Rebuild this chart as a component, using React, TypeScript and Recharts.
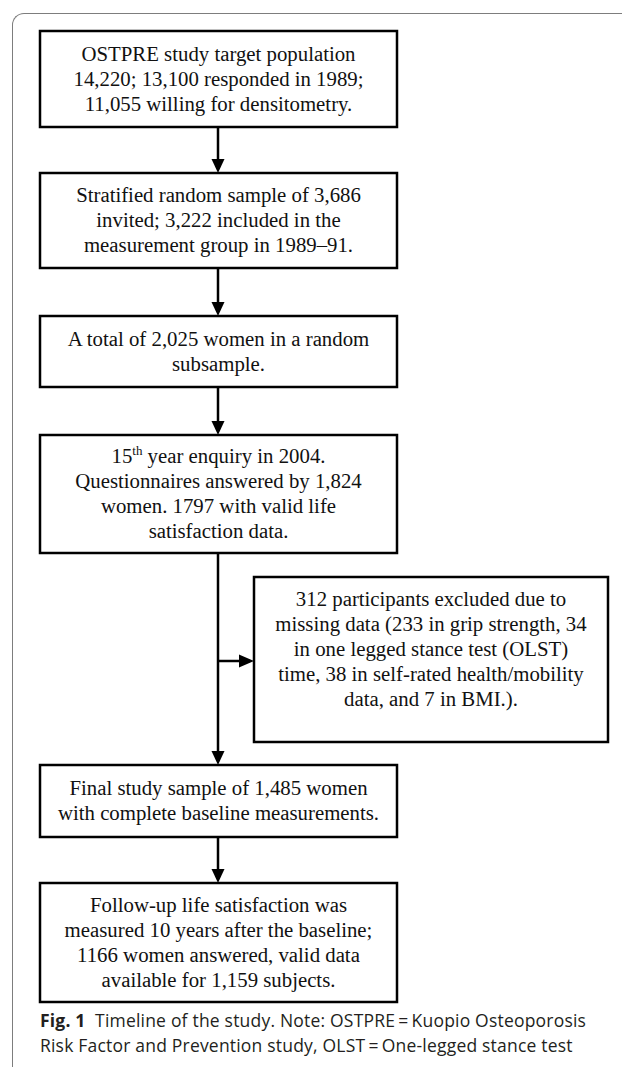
import React from "react";
import {
  ScatterChart,
  Scatter,
  XAxis,
  YAxis,
  ReferenceArea,
  ReferenceLine,
} from "recharts";

const W = 622;
const H = 1069;

// text of the main flow, top to bottom ("^" marks a superscript)
const stepTexts = [
  ["OSTPRE study target population", "14,220; 13,100 responded in 1989;", "11,055 willing for densitometry."],
  ["Stratified random sample of 3,686", "invited; 3,222 included in the", "measurement group in 1989–91."],
  ["A total of 2,025 women in a random", "subsample."],
  ["15^th year enquiry in 2004.", "Questionnaires answered by 1,824", "women. 1797 with valid life", "satisfaction data."],
  ["Final study sample of 1,485 women", "with complete baseline measurements."],
  ["Follow-up life satisfaction was", "measured 10 years after the baseline;", "1166 women answered, valid data", "available for 1,159 subjects."],
];

const excludedText = [
  "312 participants excluded due to",
  "missing data (233 in grip strength, 34",
  "in one legged stance test (OLST)",
  "time, 38 in self-rated health/mobility",
  "data, and 7 in BMI.).",
];

const captionLines = [
  ["Fig. 1", "  Timeline of the study. Note: OSTPRE\u2009=\u2009Kuopio Osteoporosis"],
  ["", "Risk Factor and Prevention study, OLST\u2009=\u2009One-legged stance test"],
];

// layout (pixel units of the chart domain)
const mainX: [number, number] = [40, 397];
const stepY: [number, number][] = [
  [31, 127],
  [173, 268],
  [316, 387],
  [435, 553],
  [765, 837],
  [883, 1002],
];
const excludedX: [number, number] = [254, 608];
const excludedY: [number, number] = [577, 742];
const excludedTextY = 649;
const spineX = 218;
const branchY = 661;
const fontSize = 20.8;
const lineGap = 25;

const BoxText = (props: any) => {
  const { cx, cy, payload } = props;
  const lines: string[] = payload.lines;
  const n = lines.length;
  return (
    <g>
      {lines.map((line, i) => {
        const y = cy + (i - (n - 1) / 2) * lineGap + fontSize * 0.33;
        const parts = line.split(/\^(\w+)/);
        return (
          <text
            key={i}
            x={cx}
            y={y}
            textAnchor="middle"
            fontFamily="'Liberation Serif', 'Times New Roman', serif"
            fontSize={fontSize}
            fill="#111"
          >
            {parts.length === 1
              ? line
              : [
                  <tspan key="a">{parts[0]}</tspan>,
                  <tspan key="b" fontSize={13} dy={-8}>
                    {parts[1]}
                  </tspan>,
                  <tspan key="c" dy={8}>
                    {parts[2]}
                  </tspan>,
                ]}
          </text>
        );
      })}
    </g>
  );
};

const Arrowhead = (props: any) => {
  const { cx, cy, payload } = props;
  const d =
    payload.dir === "down"
      ? `M${cx},${cy} L${cx - 6.5},${cy - 14} L${cx + 6.5},${cy - 14} Z`
      : `M${cx},${cy} L${cx - 15},${cy - 6.5} L${cx - 15},${cy + 6.5} Z`;
  return <path d={d} fill="#000" />;
};

export default function App() {
  const textData = stepTexts.map((lines, i) => ({
    x: (mainX[0] + mainX[1]) / 2,
    y: (stepY[i][0] + stepY[i][1]) / 2,
    lines,
  }));
  textData.push({
    x: (excludedX[0] + excludedX[1]) / 2,
    y: excludedTextY,
    lines: excludedText,
  });

  const arrowData = stepY.slice(1).map((b) => ({ x: spineX, y: b[0], dir: "down" }));
  arrowData.push({ x: excludedX[0], y: branchY, dir: "right" });

  const connectors = stepY.slice(0, -1).map((b, i) => {
    const next = stepY[i + 1];
    return [
      { x: spineX, y: b[1] },
      { x: spineX, y: next[0] - 4 },
    ];
  });

  return (
    <div style={{ position: "absolute", left: 0, top: 0, width: W, height: H, background: "#fff", overflow: "hidden" }}>
      <div
        style={{
          position: "absolute",
          left: 12,
          top: 13,
          width: W,
          height: H - 15,
          borderTop: "1.5px solid #7d7d7d",
          borderLeft: "1.5px solid #7d7d7d",
          borderTopLeftRadius: 12,
          boxSizing: "border-box",
        }}
      />
      <div style={{ position: "absolute", left: 0, top: 0 }}>
        <ScatterChart width={W} height={H} margin={{ top: 0, right: 0, bottom: 0, left: 0 }}>
          <XAxis type="number" dataKey="x" domain={[0, W]} hide />
          <YAxis type="number" dataKey="y" domain={[0, H]} reversed hide width={0} />
          {stepY.map((b, i) => (
            <ReferenceArea
              key={`box${i}`}
              x1={mainX[0]}
              x2={mainX[1]}
              y1={b[0]}
              y2={b[1]}
              stroke="#000"
              strokeWidth={2.5}
              fill="none"
              fillOpacity={0}
              ifOverflow="visible"
            />
          ))}
          <ReferenceArea
            x1={excludedX[0]}
            x2={excludedX[1]}
            y1={excludedY[0]}
            y2={excludedY[1]}
            stroke="#000"
            strokeWidth={2.5}
            fill="none"
            fillOpacity={0}
            ifOverflow="visible"
          />
          {connectors.map((seg, i) => (
            <ReferenceLine key={`c${i}`} segment={seg} stroke="#000" strokeWidth={2.5} ifOverflow="visible" />
          ))}
          <ReferenceLine
            segment={[
              { x: spineX, y: branchY },
              { x: excludedX[0] - 4, y: branchY },
            ]}
            stroke="#000"
            strokeWidth={2.5}
            ifOverflow="visible"
          />
          <Scatter data={arrowData} shape={<Arrowhead />} isAnimationActive={false} />
          <Scatter data={textData} shape={<BoxText />} isAnimationActive={false} />
        </ScatterChart>
      </div>
      {captionLines.map((ln, i) => (
        <div
          key={i}
          style={{
            position: "absolute",
            left: 40,
            top: 1008 + i * 25,
            fontFamily: "'Open Sans', sans-serif",
            fontSize: 17.5,
            letterSpacing: "0.2px",
            lineHeight: "25px",
            color: "#231f20",
            whiteSpace: "pre",
          }}
        >
          {ln[0] && <b>{ln[0]}</b>}
          {ln[1]}
        </div>
      ))}
    </div>
  );
}
